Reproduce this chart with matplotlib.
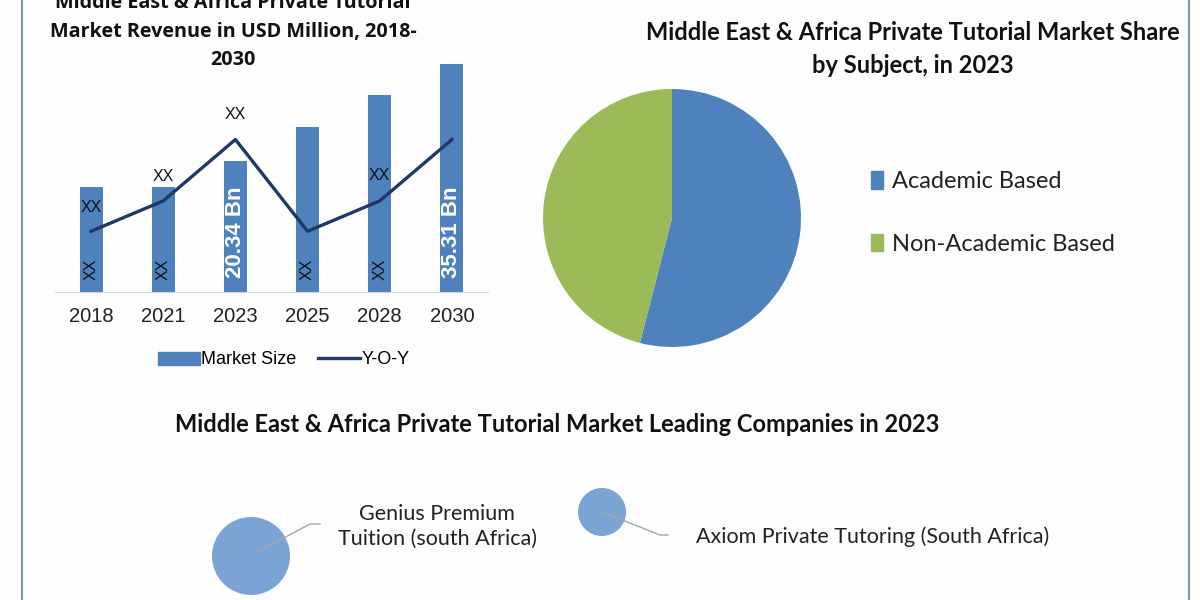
"""Middle East & Africa private tutorial market: revenue bars, share pie, leading companies."""
import matplotlib.pyplot as plt
from matplotlib.patches import Patch
from matplotlib.lines import Line2D

# --- data ---
years = ['2018', '2021', '2023', '2025', '2028', '2030']
market_size = [16.3, 16.3, 20.34, 25.5, 30.5, 35.31]
yoy = [9.4, 14.1, 23.6, 9.4, 14.1, 23.6]
bar_labels = ['XX', 'XX', '20.34 Bn', 'XX', 'XX', '35.31 Bn']
yoy_labels = ['XX', 'XX', 'XX', '', 'XX', '']

subjects = ['Academic Based', 'Non-Academic Based']
subject_share = [54, 46]

companies = ['Genius Premium\nTuition (south Africa)', 'Axiom Private Tutoring (South Africa)']
company_size = [39, 24]

BLUE = '#4F81BD'
NAVY = '#1F3864'
GREEN = '#9BBB59'
BUBBLE = '#7BA3D4'
W, H = 1200, 600

fig = plt.figure(figsize=(12, 6), dpi=100, facecolor='#FDFDFD')

def fx(x):
    return x / W

def fy(y):  # y measured from top in pixels
    return 1 - y / H

# background overlay in pixel coordinates
bg = fig.add_axes([0, 0, 1, 1], zorder=-1)
bg.set_xlim(0, W)
bg.set_ylim(H, 0)
bg.axis('off')
bg.axvline(22, color='#7F99B5', lw=1.5)
bg.axvline(1189, color='#7F99B5', lw=1.5)

# --- bar + line chart ---
ax = fig.add_axes([fx(55), fy(292), fx(433), 252 / H])
x = range(len(years))
ax.bar(x, market_size, width=0.32, color=BLUE, zorder=2)
ax.plot(x, yoy, color=NAVY, lw=2.4, zorder=3)
ax.set_xlim(-0.5, 5.5)
ax.set_ylim(0, 39)
ax.set_xticks(list(x))
ax.set_xticklabels(years, fontsize=14.5, family='Liberation Sans', color='#222222')
ax.tick_params(axis='x', length=0, pad=11)
ax.set_yticks([])
for s in ['top', 'right', 'left']:
    ax.spines[s].set_visible(False)
ax.spines['bottom'].set_color('#D9D9D9')
ax.set_facecolor('none')

for i, lab in enumerate(bar_labels):
    if lab == 'XX':
        ax.text(i, 3.5, lab, rotation=90, ha='center', va='center',
                fontsize=11.5, family='Liberation Sans', color='#111111', zorder=4)
    else:
        ax.text(i, 9.3, lab, rotation=90, ha='center', va='center',
                fontsize=16, family='Liberation Sans',
                fontweight='bold', color='white', zorder=4)
yoy_label_y = [13.1, 17.9, 27.4, 0, 18.0, 0]
for i, lab in enumerate(yoy_labels):
    if lab:
        ax.text(i, yoy_label_y[i], lab, ha='center', va='center', fontsize=11.5,
                family='Liberation Sans', color='#111111', zorder=4)

handles = [Patch(color=BLUE, label='Market Size'),
           Line2D([0], [0], color=NAVY, lw=2.4, label='Y-O-Y')]
fig.legend(handles=handles, loc='center', bbox_to_anchor=(fx(284), fy(360)),
           ncol=2, frameon=False, handlelength=2.3, handleheight=0.7,
           columnspacing=1.2, handletextpad=0.1,
           prop={'family': 'Liberation Sans', 'size': 13})

left_kw = dict(ha='center', va='baseline', fontsize=14.2, fontweight='bold',
               family='Open Sans', color='#111111')
title_kw = dict(ha='center', va='baseline', fontsize=17, fontweight='bold',
                family='Lato', color='#111111')
fig.text(fx(233), fy(8), 'Middle East & Africa Private Tutorial', **left_kw)
fig.text(fx(233), fy(37), 'Market Revenue in USD Million, 2018-', **left_kw)
fig.text(fx(233), fy(65), '2030', **left_kw)

# --- pie chart ---
pax = fig.add_axes([fx(543), fy(347), fx(258), 258 / H])
pax.pie(subject_share, colors=[BLUE, GREEN], startangle=90, counterclock=False,
        wedgeprops=dict(linewidth=0))
pax.set_xlim(-1, 1)
pax.set_ylim(-1, 1)
fig.text(fx(913), fy(40), 'Middle East & Africa Private Tutorial Market Share', **title_kw)
fig.text(fx(913), fy(73), 'by Subject, in 2023', **title_kw)
fig.legend(handles=[Patch(color=c, label=l) for c, l in zip([BLUE, GREEN], subjects)],
           loc='upper left', bbox_to_anchor=(fx(850), fy(150)), frameon=False,
           handlelength=0.5, handleheight=0.75, handletextpad=0.4, labelspacing=1.75,
           prop={'family': 'Lato', 'size': 17}, labelcolor='#222222')

# --- leading companies ---
fig.text(fx(557), fy(432), 'Middle East & Africa Private Tutorial Market Leading Companies in 2023',
         **title_kw)
bub_x = [251, 602]
bub_y = [556, 512]
bg.scatter(bub_x, bub_y, s=[(2 * r * 0.72) ** 2 for r in company_size],
           color=BUBBLE, linewidths=0, zorder=2)
bg.plot([252, 310, 320], [555, 524, 524], color='#A6A6A6', lw=1, zorder=3)
bg.plot([602, 660, 668], [512, 535, 535], color='#A6A6A6', lw=1, zorder=3)
bg.text(437, 526, companies[0], ha='center', va='center', fontsize=15.5,
        family='Lato', color='#222222', linespacing=1.3)
bg.text(696, 537, companies[1], ha='left', va='center', fontsize=15.5,
        family='Lato', color='#222222')

fig.savefig('out.png', dpi=100, facecolor=fig.get_facecolor())
